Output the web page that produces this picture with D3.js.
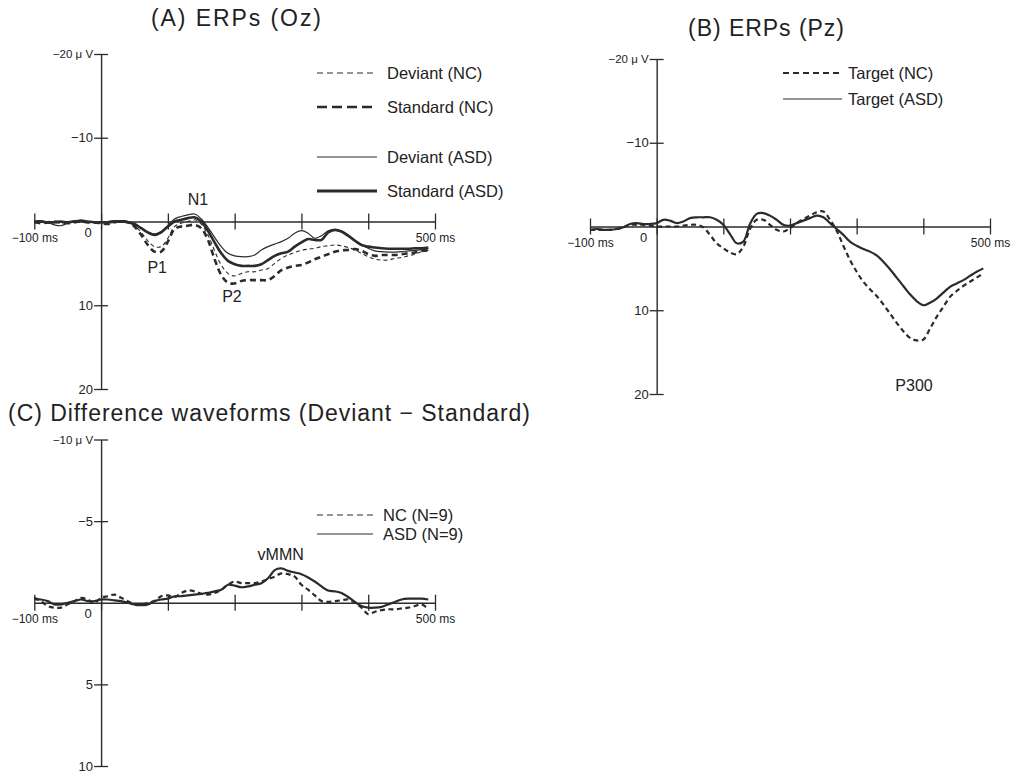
<!DOCTYPE html>
<html>
<head>
<meta charset="utf-8">
<script src="https://cdn.jsdelivr.net/npm/d3@7"></script>
<style>
  body { margin: 0; background: #fff; }
  svg { display: block; }
</style>
</head>
<body>
<svg id="chart" width="1011" height="775"></svg>
<script>
// time points (ms) shared by every waveform
const timesMs = [-100, -90, -80, -70, -60, -50, -40, -30, -20, -10,
  0, 10, 20, 30, 40, 50, 60, 70, 80, 90,
  100, 110, 120, 130, 140, 150, 160, 170, 180, 190,
  200, 210, 220, 230, 240, 250, 260, 270, 280, 290,
  300, 310, 320, 330, 340, 350, 360, 370, 380, 390,
  400, 410, 420, 430, 440, 450, 460, 470, 480, 490];

// (A) ERPs at Oz, µV (positive = down)
const deviantNC_A = [0.1, 0.1, 0.0, 0.1, 0.2, 0.1, 0.0, 0.1, 0.1, 0.0,
  0.1, 0.2, 0.1, 0.1, 0.1, 0.5, 1.3, 2.3, 3.0, 3.0,
  2.0, 0.6, 0.2, 0.0, -0.2, 0.3, 1.6, 3.5, 5.2, 6.2,
  6.5, 6.2, 6.0, 6.0, 5.8, 5.6, 5.0, 4.4, 4.0, 3.7,
  3.45, 3.3, 3.2, 3.0, 2.9, 2.8, 2.9, 3.1, 3.4, 3.8,
  4.2, 4.5, 4.6, 4.6, 4.4, 4.3, 4.1, 3.9, 3.6, 3.45];
const standardNC_A = [0.1, 0.2, 0.1, 0.0, 0.1, 0.2, 0.1, 0.0, 0.1, 0.1,
  0.2, 0.3, 0.1, 0.0, 0.1, 0.6, 1.6, 2.8, 3.6, 3.6,
  2.4, 0.9, 0.6, 0.5, 0.4, 0.8, 2.2, 4.5, 6.4, 7.3,
  7.4, 7.1, 7.0, 7.0, 7.0, 7.0, 6.5, 5.8, 5.5, 5.3,
  5.2, 4.9, 4.5, 4.2, 3.9, 3.6, 3.45, 3.4, 3.3, 3.5,
  3.9, 4.1, 4.0, 4.0, 4.0, 3.9, 3.8, 3.7, 3.5, 3.45];
const deviantASD_A = [0.0, -0.1, 0.1, 0.4, 0.5, 0.2, -0.1, 0.0, 0.1, 0.0,
  0.1, 0.0, -0.1, -0.1, 0.0, 0.3, 0.8, 1.3, 1.5, 1.2,
  0.5, -0.3, -0.6, -0.8, -0.9, -0.3, 0.7, 1.9, 3.0, 3.8,
  4.1, 4.2, 4.2, 4.0, 3.4, 3.0, 2.7, 2.4, 2.0, 1.4,
  1.1, 1.4, 2.0, 1.7, 1.1, 1.0, 1.2, 1.6, 2.2, 2.8,
  3.2, 3.5, 3.6, 3.65, 3.65, 3.6, 3.5, 3.45, 3.35, 3.25];
const standardASD_A = [0.0, 0.0, 0.1, 0.1, 0.0, 0.1, 0.0, -0.1, 0.0, 0.1,
  0.1, 0.1, 0.0, 0.0, 0.1, 0.3, 0.8, 1.3, 1.6, 1.3,
  0.6, 0.0, -0.2, -0.4, -0.5, 0.0, 1.1, 2.5, 3.8, 4.7,
  5.1, 5.3, 5.3, 5.3, 5.1, 4.6, 4.1, 3.8, 3.6, 3.0,
  2.5, 2.1, 2.2, 2.2, 1.3, 1.0, 1.2, 1.7, 2.3, 2.8,
  3.0, 3.1, 3.2, 3.25, 3.25, 3.25, 3.25, 3.2, 3.2, 3.1];

// (B) ERPs at Pz
const targetNC_B = [0.4, 0.4, 0.4, 0.4, 0.3, 0.1, -0.2, -0.2, -0.2, -0.1,
  0.0, 0.0, 0.0, 0.0, -0.1, -0.2, -0.2, 0.1, 1.0, 2.0,
  2.6, 3.1, 3.3, 2.4, 0.3, -0.8, -0.8, -0.2, 0.4, 0.6,
  0.2, -0.4, -0.9, -1.3, -1.7, -1.8, -0.8, 0.5, 2.3, 4.0,
  5.4, 6.6, 7.5, 8.3, 9.3, 10.4, 11.5, 12.5, 13.3, 13.6,
  13.5, 12.2, 10.8, 9.6, 8.4, 7.7, 7.1, 6.6, 6.1, 5.6];
const targetASD_B = [0.4, 0.3, 0.4, 0.4, 0.3, 0.1, -0.3, -0.4, -0.3, -0.3,
  -0.4, -0.8, -0.7, -0.4, -0.6, -1.0, -1.1, -1.1, -1.1, -0.8,
  -0.2, 0.9, 2.0, 1.8, -0.3, -1.5, -1.6, -1.3, -0.8, -0.2,
  -0.1, -0.4, -0.7, -1.0, -1.3, -1.1, -0.4, 0.3, 1.0, 1.8,
  2.3, 2.7, 3.0, 3.45, 4.2, 5.1, 6.1, 7.1, 8.1, 8.9,
  9.4, 9.1, 8.6, 7.9, 7.2, 6.8, 6.4, 5.9, 5.4, 5.0];

// (C) difference waveforms (Deviant - Standard)
const diffNC_C = [-0.3, -0.1, 0.2, 0.3, 0.3, 0.1, -0.1, -0.3, -0.2, 0.0,
  -0.3, -0.4, -0.5, -0.3, -0.1, 0.1, 0.15, 0.0, -0.1, -0.4,
  -0.45, -0.35, -0.6, -0.75, -0.7, -0.55, -0.5, -0.6, -0.8, -1.1,
  -1.3, -1.2, -1.2, -1.2, -1.3, -1.45, -1.6, -1.8, -1.75, -1.6,
  -1.1, -0.8, -0.45, -0.1, -0.05, -0.1, -0.15, -0.2, 0.0, 0.3,
  0.7, 0.55, 0.45, 0.4, 0.4, 0.35, 0.3, 0.2, 0.1, 0.4];
const diffASD_C = [-0.2, -0.2, -0.1, 0.1, 0.1, 0.0, -0.1, -0.2, -0.1, -0.1,
  -0.2, -0.2, -0.15, -0.1, 0.0, 0.1, 0.15, 0.1, -0.1, -0.2,
  -0.25, -0.4, -0.4, -0.45, -0.5, -0.55, -0.6, -0.7, -0.8, -1.1,
  -1.05, -0.95, -1.0, -1.1, -1.2, -1.5, -2.0, -2.1, -1.95, -1.85,
  -1.75, -1.55, -1.3, -1.0, -0.75, -0.7, -0.6, -0.35, -0.05, 0.2,
  0.3, 0.3, 0.25, 0.1, -0.05, -0.2, -0.25, -0.25, -0.25, -0.2];

// tick values / labels
const xTickValues = [-100, 0, 100, 200, 300, 400, 500];
const yTicksERP = [-20, -10, 10, 20];
const yTicksDiff = [-10, -5, 5, 10];

const svg = d3.select("#chart");
const ink = "#2b2b2b";

function drawPanel(p) {
  const x = d3.scaleLinear().domain([-100, 500]).range(p.xRange);
  const y = d3.scaleLinear().domain(p.yDomain).range(p.yRange);
  const g = svg.append("g");

  // x axis sits on the zero line, ticks cross it
  const xAxis = g.append("g")
    .attr("transform", `translate(0,${y(0)})`)
    .call(d3.axisBottom(x)
      .tickValues(xTickValues)
      .tickSize(8)
      .tickSizeOuter(0)
      .tickPadding(4)
      .tickFormat(d => d === -100 ? "\u2212100 ms" : d === 500 ? "500 ms" : ""));
  xAxis.selectAll(".tick line").attr("y1", -8);

  const yAxis = g.append("g")
    .attr("transform", `translate(${x(0)},0)`)
    .call(d3.axisLeft(y)
      .tickValues(p.yTicks)
      .tickSize(7)
      .tickSizeOuter(0)
      .tickPadding(1)
      .tickFormat(d => (d < 0 ? "\u2212" + (-d) : d) + (d === p.yDomain[0] ? " \u03bc V" : "")));
  yAxis.selectAll(".tick line").attr("x1", 7);

  [xAxis, yAxis].forEach(a => {
    a.attr("font-family", "'Liberation Sans', Arial, sans-serif").attr("font-size", 13);
    a.select(".domain").attr("stroke", ink).attr("stroke-width", 1.4);
    a.selectAll(".tick line").attr("stroke", ink).attr("stroke-width", 1.3);
    a.selectAll(".tick text").attr("fill", "#222");
  });
  yAxis.selectAll(".tick text").filter(d => d === p.yDomain[0]).attr("font-size", 11.5);
  xAxis.selectAll(".tick text").attr("font-size", 12);

  // "0" label at the origin
  g.append("text")
    .attr("x", x(0) - 13).attr("y", y(0) + 15)
    .attr("text-anchor", "middle")
    .attr("font-family", "'Liberation Sans', Arial, sans-serif")
    .attr("font-size", 13).attr("fill", "#222")
    .text("0");

  const line = d3.line()
    .x((d, i) => x(timesMs[i]))
    .y(d => y(d))
    .curve(d3.curveCatmullRom.alpha(0.5));

  g.append("g").selectAll("path")
    .data(p.series)
    .enter()
    .append("path")
    .attr("d", s => line(s.values))
    .attr("fill", "none")
    .attr("stroke", ink)
    .attr("stroke-width", s => s.width)
    .attr("stroke-dasharray", s => s.dash || null)
    .attr("stroke-linejoin", "round");

  // legend
  const leg = g.append("g").selectAll("g")
    .data(p.series)
    .enter()
    .append("g")
    .attr("transform", (s, i) => `translate(${p.legend.x},${p.legend.rows[i]})`);
  leg.append("line")
    .attr("x1", 0).attr("x2", p.legend.len)
    .attr("stroke", ink)
    .attr("stroke-width", s => s.legendWidth || s.width)
    .attr("stroke-dasharray", s => s.legendDash || s.dash || null);
  leg.append("text")
    .attr("x", p.legend.len + p.legend.gap)
    .attr("dy", "0.36em")
    .attr("font-family", "'Liberation Sans', Arial, sans-serif")
    .attr("font-size", 16.5)
    .attr("fill", "#222")
    .text(s => s.label);

  // component labels
  g.append("g").selectAll("text")
    .data(p.notes)
    .enter()
    .append("text")
    .attr("x", d => x(d.t))
    .attr("y", d => y(d.v))
    .attr("dy", "0.36em")
    .attr("text-anchor", "middle")
    .attr("font-family", "'Liberation Sans', Arial, sans-serif")
    .attr("font-size", 16)
    .attr("fill", "#222")
    .text(d => d.text);

  // title
  g.append("text")
    .attr("x", p.title.x).attr("y", p.title.y)
    .attr("text-anchor", p.title.anchor)
    .attr("font-family", "'Liberation Sans', Arial, sans-serif")
    .attr("font-size", p.title.size)
    .attr("textLength", p.title.len)
    .attr("lengthAdjust", "spacing")
    .attr("fill", "#222")
    .text(p.title.text);
}

drawPanel({
  xRange: [34.3, 435],
  yDomain: [-20, 20],
  yRange: [54, 389],
  yTicks: yTicksERP,
  series: [
    { label: "Deviant (NC)", values: deviantNC_A, width: 1.1, dash: "4,3", legendDash: "6,4" },
    { label: "Standard (NC)", values: standardNC_A, width: 2.6, dash: "6,4", legendDash: "10,5" },
    { label: "Deviant (ASD)", values: deviantASD_A, width: 1.2 },
    { label: "Standard (ASD)", values: standardASD_A, width: 2.6, legendWidth: 3.2 }
  ],
  legend: { x: 317, len: 60, gap: 10, rows: [73, 107, 157, 191] },
  notes: [
    { text: "P1", t: 84, v: 5.5 },
    { text: "N1", t: 145, v: -2.6 },
    { text: "P2", t: 196, v: 8.9 }
  ],
  title: { text: "(A) ERPs (Oz)", x: 236, y: 26, anchor: "middle", size: 23, len: 170 }
});

drawPanel({
  xRange: [590, 990],
  yDomain: [-20, 20],
  yRange: [59, 394],
  yTicks: yTicksERP,
  series: [
    { label: "Target (NC)", values: targetNC_B, width: 2.2, dash: "5,3.5", legendDash: "6,4", legendWidth: 1.8 },
    { label: "Target (ASD)", values: targetASD_B, width: 2.2, legendWidth: 1.2 }
  ],
  legend: { x: 783, len: 59, gap: 6, rows: [73, 99] },
  notes: [
    { text: "P300", t: 386, v: 19.0 }
  ],
  title: { text: "(B) ERPs (Pz)", x: 766, y: 36, anchor: "middle", size: 23, len: 156 }
});

drawPanel({
  xRange: [34.3, 435],
  yDomain: [-10, 10],
  yRange: [439.5, 766],
  yTicks: yTicksDiff,
  series: [
    { label: "NC (N=9)", values: diffNC_C, width: 2.2, dash: "5,3.5", legendDash: "6,4", legendWidth: 1.1 },
    { label: "ASD (N=9)", values: diffASD_C, width: 2.2, legendWidth: 1.1 }
  ],
  legend: { x: 317, len: 56, gap: 10, rows: [515, 534] },
  notes: [
    { text: "vMMN", t: 269, v: -3.0 }
  ],
  title: { text: "(C) Difference waveforms (Deviant \u2212 Standard)", x: 8, y: 421, anchor: "start", size: 23, len: 522 }
});
</script>
</body>
</html>
